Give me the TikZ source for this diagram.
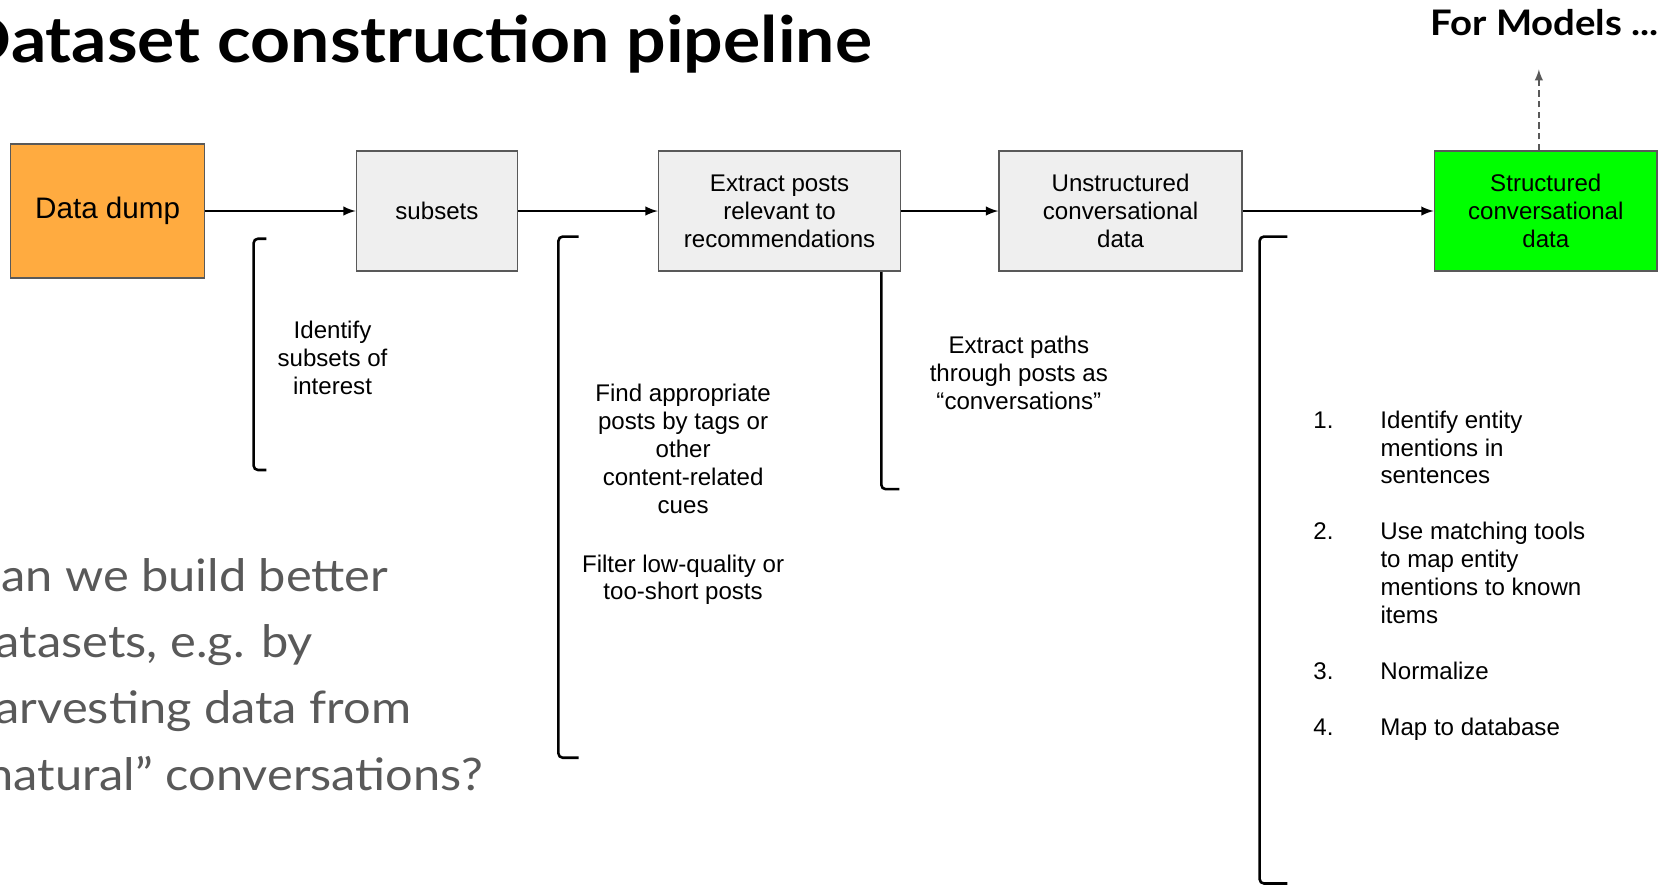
\documentclass[tikz,border=0pt]{standalone}
\usepackage{fontspec}
\setmainfont{Liberation Sans}
\newfontfamily\slidefont{Lato}[FakeStretch=1.09]
\usetikzlibrary{positioning, arrows}
\definecolor{dumporange}{HTML}{FFAB40}
\definecolor{stagegray}{HTML}{EFEFEF}
\definecolor{edgegray}{HTML}{595959}
\definecolor{donegreen}{HTML}{00FF00}
\newcommand{\boxfont}{\fontsize{11.3pt}{13.1pt}\selectfont}
\newcommand{\dumpfont}{\fontsize{13.9pt}{16pt}\selectfont}
\newcommand{\titlefont}{\slidefont\bfseries\fontsize{30pt}{36pt}\selectfont}
\newcommand{\modelsfont}{\slidefont\bfseries\fontsize{16.5pt}{20pt}\selectfont}
\newcommand{\askfont}{\slidefont\fontsize{21pt}{31pt}\selectfont}
\tikzstyle{pipe} = [line width=1pt,->,>=latex]

\begin{document}
\begin{tikzpicture}[x=0.5pt, y=-0.5pt,
    stage/.style={draw=edgegray, line width=0.75pt, fill=stagegray, align=center, inner sep=0, minimum height=56.5pt, font=\boxfont},
    bracket/.style={line width=1.2pt, rounded corners=2pt},
    note/.style={align=center, inner sep=0, font=\boxfont}
  ]
  \useasboundingbox (0,0) rectangle (1568,832);
  \clip (0,0) rectangle (1568,832);

  \node[anchor=base west, inner sep=0, font=\titlefont] (title) at (-39,59) {Dataset construction pipeline};
  \node[anchor=base east, inner sep=0, font=\modelsfont] (models) at (1557,33) {For Models ...};

  \node[stage, fill=dumporange, minimum width=91pt, minimum height=63pt, font=\dumpfont] (dump) at (101,198) {Data dump};
  \node[stage, minimum width=75.5pt, right=70.5pt of dump] (subsets) {subsets};
  \node[stage, minimum width=113.5pt, right=65.5pt of subsets] (extract) {Extract posts\\relevant to\\recommendations};
  \node[stage, minimum width=114pt, right=45.5pt of extract] (unstruct) {Unstructured\\conversational\\data};
  \node[stage, fill=donegreen, minimum width=104.5pt, right=89.5pt of unstruct] (struct) {Structured\\conversational\\data};

  \draw[pipe] (dump) -- (subsets);
  \draw[pipe] (subsets) -- (extract);
  \draw[pipe] (extract) -- (unstruct);
  \draw[pipe] (unstruct) -- (struct);

  \coordinate (up) at (1444,65);
  \draw[pipe, line width=0.8pt, draw=edgegray, dash pattern=on 3pt off 2pt] (struct.north -| up) -- (up);

  % brackets under the stages
  \draw[bracket] (250,224) -- (238,224) -- (238,441) -- (250,441);
  \draw[bracket] (543,222) -- (524,222) -- (524,711) -- (543,711);
  \draw[bracket] (extract.south -| 827,0) -- (827,459) -- (844,459);
  \draw[bracket] (1208,222) -- (1182,222) -- (1182,829) -- (1208,829);

  \node[note] (idsub) at (312,336) {Identify\\subsets of\\interest};
  \node[note] (find) at (641,464) {Find appropriate\\posts by tags or\\other\\content-related\\cues\\[14.5pt]Filter low-quality or\\too-short posts};
  \node[note] (paths) at (956,350) {Extract paths\\through posts as\\“conversations”};

  \node[anchor=north west, inner sep=0, font=\boxfont] (steps) at (1232,383) {\begin{tabular}{@{}p{31.5pt}@{}l@{}}
    1. & Identify entity\\ & mentions in\\ & sentences\\[13.1pt]
    2. & Use matching tools\\ & to map entity\\ & mentions to known\\ & items\\[13.1pt]
    3. & Normalize\\[13.1pt]
    4. & Map to database
  \end{tabular}};

  \node[anchor=north west, align=left, inner sep=0, font=\askfont, text=edgegray] (ask) at (-30,524) {Can we build better\\datasets, e.g. by\\harvesting data from\\“natural” conversations?};
\end{tikzpicture}
\end{document}
